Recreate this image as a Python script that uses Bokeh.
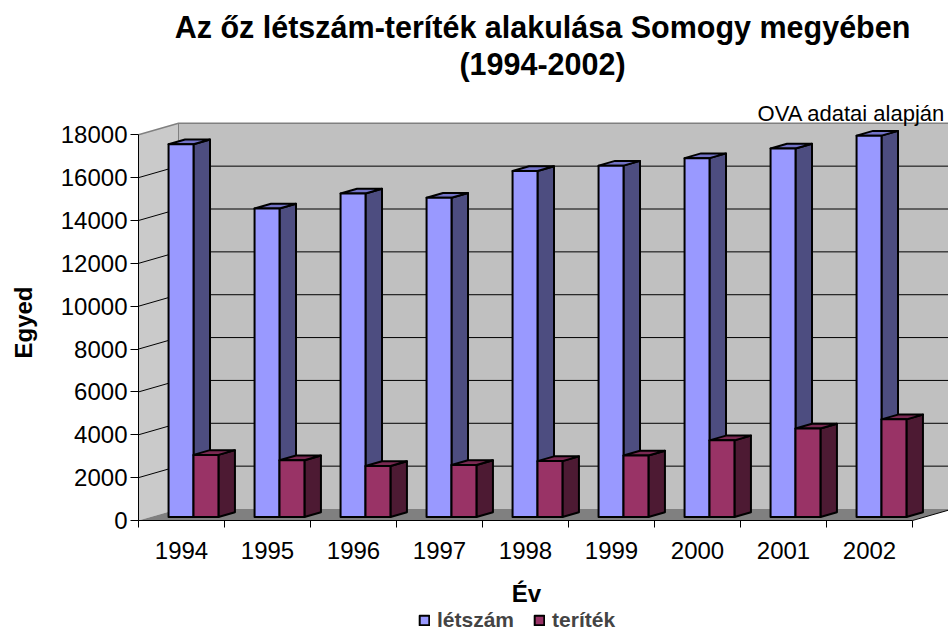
import math
from bokeh.plotting import figure
from bokeh.models import Range1d, FixedTicker, Label, Legend, LegendItem
from bokeh.embed import file_html
from bokeh.resources import INLINE

# ---------------- data ----------------
years = ["1994", "1995", "1996", "1997", "1998", "1999", "2000", "2001", "2002"]
letszam = [17400, 14400, 15100, 14900, 16150, 16400, 16750, 17200, 17800]
teritek = [2900, 2650, 2380, 2430, 2610, 2870, 3580, 4130, 4560]
y_ticks = [0, 2000, 4000, 6000, 8000, 10000, 12000, 14000, 16000, 18000]
series_names = ["létszám", "teríték"]

title_line1 = "Az őz létszám-teríték alakulása Somogy megyében"
title_line2 = "(1994-2002)"
source_note = "OVA adatai alapján"
x_title = "Év"
y_title = "Egyed"

# ---------------- geometry / style ----------------
W, H = 948, 633
ORIG_X, ORIG_Y = 138, 520          # pixel position of the value axis origin
N = len(years)
YMAX = y_ticks[-1]
CAT_PX = 86.0
VAL_PX = (520 - 134.3) / YMAX

def dep(px_dx, px_dy):
    return px_dx / CAT_PX, px_dy / VAL_PX

WDX, WDY = dep(40, 11.5)
FDX, FDY = dep(12, 3.45)
BDX, BDY = dep(28.5, 8.2)
BAR_W = 0.29

FONT = "Liberation Sans"

p = figure(width=W, height=H, output_backend="svg", toolbar_location=None,
           x_range=Range1d(-ORIG_X / CAT_PX, (W - ORIG_X) / CAT_PX),
           y_range=Range1d(-(H - ORIG_Y) / VAL_PX, ORIG_Y / VAL_PX), title=None,
           min_border_left=0, min_border_right=0, min_border_top=0, min_border_bottom=0)
p.xgrid.visible = False
p.ygrid.visible = False
p.outline_line_color = None
p.background_fill_color = "white"
p.border_fill_color = "white"

# walls and floor
p.patch([WDX, N + WDX + 1, N + WDX + 1, WDX], [WDY, WDY, YMAX + WDY, YMAX + WDY],
        fill_color="#C0C0C0", line_color=None)
p.patch([0, WDX, WDX, 0], [0, WDY, YMAX + WDY, YMAX],
        fill_color="#CACACA", line_color=None)
p.patch([0, N, N + WDX, WDX], [0, 0, WDY, WDY],
        fill_color="#808080", line_color=None)

# back wall gridlines
grid_vals = y_ticks[1:-1]
p.multi_line([[WDX, N + WDX + 1] for v in grid_vals], [[v + WDY, v + WDY] for v in grid_vals],
             line_color="black", line_width=1)
p.multi_line([[0, WDX] for v in grid_vals], [[v, v + WDY] for v in grid_vals],
             line_color="black", line_width=1)
# wall edges
p.line([0, WDX, N + WDX + 1], [YMAX, YMAX + WDY, YMAX + WDY], line_color="#808080", line_width=1.5)
p.line([WDX, WDX], [WDY, YMAX + WDY], line_color="#808080", line_width=1)
p.line([N, N + WDX], [0, WDY], line_color="black", line_width=1)

# bars
def faces(vals, shift):
    fx, fy, sx, sy, tx, ty = [], [], [], [], [], []
    for i, v in enumerate(vals):
        c = i + 0.5
        x0 = c - BAR_W + shift * BAR_W
        x1 = x0 + BAR_W
        fx.append([x0 + FDX, x1 + FDX, x1 + FDX, x0 + FDX])
        fy.append([FDY, FDY, v + FDY, v + FDY])
        sx.append([x1 + FDX, x1 + BDX, x1 + BDX, x1 + FDX])
        sy.append([FDY, BDY, v + BDY, v + FDY])
        tx.append([x0 + FDX, x1 + FDX, x1 + BDX, x0 + BDX])
        ty.append([v + FDY, v + FDY, v + BDY, v + BDY])
    return fx, fy, sx, sy, tx, ty

styles = [("#9999FF", "#4D4D80", "#7373C8"), ("#993366", "#4D1A33", "#7A2952")]
front_renderers = []
for k, vals in enumerate([letszam, teritek]):
    fx, fy, sx, sy, tx, ty = faces(vals, k)
    front_c, side_c, top_c = styles[k]
    p.patches(sx, sy, fill_color=side_c, line_color="black", line_width=2, line_join="round")
    p.patches(tx, ty, fill_color=top_c, line_color="black", line_width=2, line_join="round")
    r = p.patches(fx, fy, fill_color=front_c, line_color="black", line_width=2, line_join="round")
    front_renderers.append(r)

# axes, fixed at the origin of the value/category scales
ya = p.yaxis[0]
ya.fixed_location = 0
ya.bounds = (0, YMAX)
ya.ticker = FixedTicker(ticks=y_ticks)
ya.major_tick_out = 8
ya.major_tick_in = 0
ya.minor_tick_out = 0
ya.minor_tick_in = 0
ya.major_label_standoff = 3
ya.major_label_text_font = FONT
ya.major_label_text_font_size = "24px"
ya.major_label_text_color = "black"
ya.axis_line_color = "black"

xa = p.xaxis[0]
xa.fixed_location = 0
xa.bounds = (0, N)
centers = [i + 0.5 for i in range(N)]
xa.ticker = FixedTicker(ticks=centers, minor_ticks=list(range(N + 1)))
xa.major_label_overrides = {c: y for c, y in zip(centers, years)}
xa.major_tick_out = 0
xa.major_tick_in = 0
xa.minor_tick_out = 7
xa.minor_tick_in = 0
xa.major_label_standoff = 14
xa.major_label_text_font = FONT
xa.major_label_text_font_size = "24px"
xa.major_label_text_color = "black"
xa.axis_line_color = "black"

# texts (screen units: x from left, y up from bottom of the frame)
def add_label(text, X, Y, size, bold=False, align="center", angle=0.0):
    p.add_layout(Label(x=X, y=H - Y, x_units="screen", y_units="screen", text=text,
                       text_font=FONT, text_font_size=size,
                       text_font_style="bold" if bold else "normal",
                       text_align=align, text_baseline="middle", angle=angle,
                       text_color="black"))

add_label(title_line1, 542, 26.5, "30.5px", bold=True)
add_label(title_line2, 542, 63.5, "30.5px", bold=True)
add_label(source_note, 945, 113, "22px", align="right")
add_label(x_title, 526, 593, "24px", bold=True)
add_label(y_title, 23, 322, "24px", bold=True, angle=math.pi / 2)

legend = Legend(items=[LegendItem(label=series_names[0], renderers=[front_renderers[0]]),
                       LegendItem(label=series_names[1], renderers=[front_renderers[1]])],
                location=(418, 1), orientation="horizontal",
                glyph_width=12, glyph_height=12, label_standoff=7, spacing=19,
                padding=0, margin=0, border_line_color=None, background_fill_alpha=0,
                label_text_font=FONT, label_text_font_size="21px", label_text_font_style="bold",
                label_height=12)
p.add_layout(legend, "center")

open("out.html", "w").write(file_html(p, INLINE))
